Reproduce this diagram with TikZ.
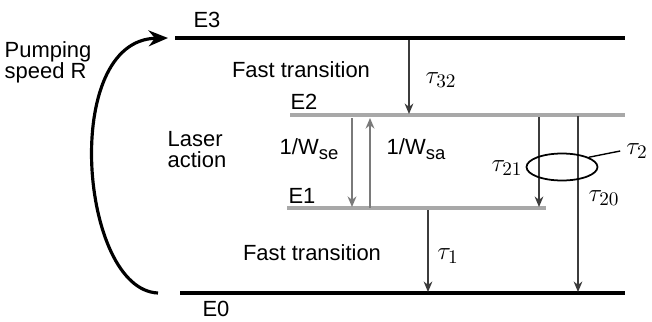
\documentclass[tikz,border=0pt]{standalone}
\usepackage{fontspec}
\setmainfont{Liberation Sans}
\usepackage{tikz}
\usetikzlibrary{arrows.meta, positioning, shapes.geometric}
\definecolor{Level_Gray}{HTML}{A8A8A8}
\definecolor{Rate_Gray}{HTML}{7A7A7A}
\definecolor{Decay_Gray}{HTML}{3C3C3C}

\begin{document}
\begin{tikzpicture}[x=0.02cm, y=-0.02cm, font=\fontsize{12.5}{14}\selectfont,
    level/.style={line width=2pt, black},
    sublevel/.style={line width=2.6pt, Level_Gray},
    decay/.style={-{Stealth[length=6pt, width=5pt]}, line width=0.8pt, Decay_Gray},
    rate/.style={-{Stealth[length=6pt, width=5pt]}, line width=1.5pt, Rate_Gray},
    tau/.style={font=\fontsize{15}{16}\selectfont}]
    \useasboundingbox (0,0) rectangle (652,321);

    % Energy levels
    \coordinate (E3l) at (175,38);  \coordinate (E3r) at (625,38);
    \coordinate (E2l) at (290,115); \coordinate (E2r) at (625,115);
    \coordinate (E1l) at (287,208); \coordinate (E1r) at (546,208);
    \coordinate (E0l) at (180,293); \coordinate (E0r) at (625,293);
    \draw[level] (E3l) -- (E3r);
    \draw[sublevel] (E2l) -- (E2r);
    \draw[sublevel] (E1l) -- (E1r);
    \draw[level] (E0l) -- (E0r);
    \node (e3) at (207,20) {E3};
    \node (e2) at (304,102) {E2};
    \node (e1) at (302,196) {E1};
    \node (e0) at (216,309) {E0};

    % Pumping
    \coordinate (pumpS) at (158,293);
    \coordinate (pumpE) at (168,38);
    \draw[-{Stealth[length=11pt, width=9pt]}, line width=1.8pt] (pumpS) .. controls (80,290) and (60,40) .. (pumpE);
    \node[align=left] (pump) at (48,62) {Pumping\\[-2pt]speed R};

    % Fast transitions
    \node (fast32) at (301,70) {Fast transition};
    \node (fast10) at (312,253) {Fast transition};
    \coordinate (t32s) at (409,40);  \coordinate (t32e) at (409,114);
    \draw[decay] (t32s) -- (t32e);
    \node[tau] (tau32) at (441,80) {$\tau_{32}$};
    \coordinate (t1s) at (428,210);  \coordinate (t1e) at (428,292);
    \draw[decay] (t1s) -- (t1e);
    \node[tau] (tau1) at (448,256) {$\tau_1$};

    % Laser action
    \node[align=left] (laser) at (197,150) {Laser\\[-2pt]action};
    \coordinate (seS) at (352,118); \coordinate (seE) at (352,207);
    \draw[rate] (seS) -- (seE);
    \coordinate (saS) at (370,208); \coordinate (saE) at (370,118);
    \draw[rate] (saS) -- (saE);
    \node (wse) at (309,149) {1/W\raisebox{-0.45ex}{\fontsize{10.5}{11}\selectfont se}};
    \node (wsa) at (416,149) {1/W\raisebox{-0.45ex}{\fontsize{10.5}{11}\selectfont sa}};

    % Decay from E2
    \coordinate (t21s) at (539,117); \coordinate (t21e) at (539,207);
    \draw[decay] (t21s) -- (t21e);
    \coordinate (t20s) at (578,116); \coordinate (t20e) at (578,292);
    \draw[decay] (t20s) -- (t20e);
    \node[draw, ellipse, line width=1pt, inner sep=0pt, minimum width=1.42cm, minimum height=0.54cm] (loop) at (562,167) {};
    \node[tau] (tau21) at (507,168) {$\tau_{21}$};
    \node[tau] (tau20) at (604,198) {$\tau_{20}$};
    \node[tau] (tau2) at (637,151) {$\tau_2$};
    \draw[line width=0.8pt] (loop.20) -- (tau2.west);
\end{tikzpicture}
\end{document}
